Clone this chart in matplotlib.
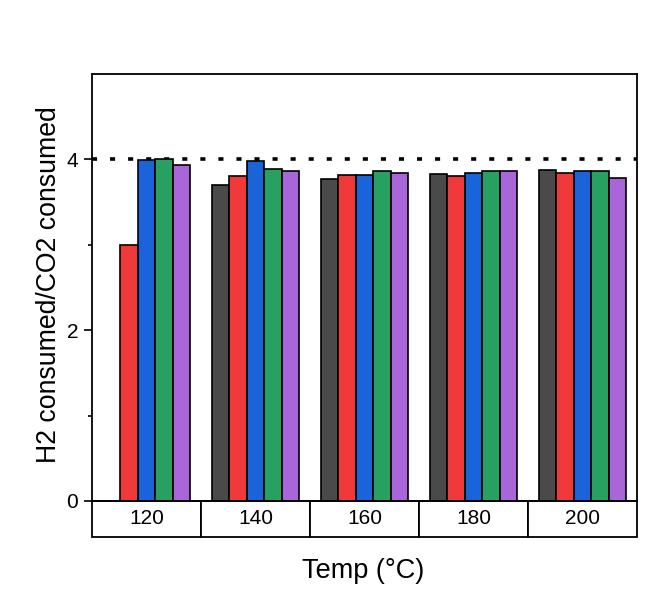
import matplotlib
matplotlib.use("Agg")
import matplotlib.pyplot as plt
import numpy as np

plt.rcParams['font.family'] = ['Liberation Sans', 'DejaVu Sans']

# data
temps = ['120', '140', '160', '180', '200']
s1 = [np.nan, 3.70, 3.77, 3.83, 3.88]   # dark grey
s2 = [3.00, 3.80, 3.82, 3.81, 3.84]     # red
s3 = [3.99, 3.98, 3.82, 3.84, 3.86]     # blue
s4 = [4.00, 3.89, 3.86, 3.86, 3.86]     # green
s5 = [3.93, 3.86, 3.84, 3.86, 3.78]     # purple
ref_ratio = 4.0

series = [s1, s2, s3, s4, s5]
colors = ['#4a4a4a', '#f03a3a', '#1a63d8', '#27a061', '#a866d8']

fig = plt.figure(figsize=(6.51, 5.94), dpi=100)
ax = fig.add_axes([0.1413, 0.1566, 0.8372, 0.7188])

x = np.arange(len(temps))
w = 0.16
for i, (vals, c) in enumerate(zip(series, colors)):
    ax.bar(x + (i - 2) * w, vals, width=w, color=c, edgecolor='black', linewidth=1.2)

ax.axhline(ref_ratio, color='black', linestyle=(0, (1.4, 3.6)), linewidth=2.6, zorder=0.5)

ax.set_xlim(-0.5, len(temps) - 0.5)
ax.set_ylim(0, 5)
ax.set_yticks([0, 2, 4])
ax.set_yticks([1, 3], minor=True)
ax.set_xticks([])
ax.tick_params(axis='y', which='major', direction='out', length=6, width=1.2, labelsize=15, pad=4)
ax.tick_params(axis='y', which='minor', direction='out', length=3, width=1.2)
for sp in ax.spines.values():
    sp.set_linewidth(1.3)

tab = ax.table(cellText=[temps], cellLoc='center', loc='bottom', bbox=[0, -0.0843, 1, 0.0843])
tab.auto_set_font_size(False)
tab.set_fontsize(15)
for cell in tab.get_celld().values():
    cell.set_linewidth(1.3)

ax.set_ylabel('H2 consumed/CO2 consumed', fontsize=19.2)
ax.yaxis.set_label_coords(-0.055, 0.506)
fig.text(0.558, 0.039, 'Temp (°C)', fontsize=19.5, ha='center', va='center')

fig.savefig('out.png', dpi=100)
